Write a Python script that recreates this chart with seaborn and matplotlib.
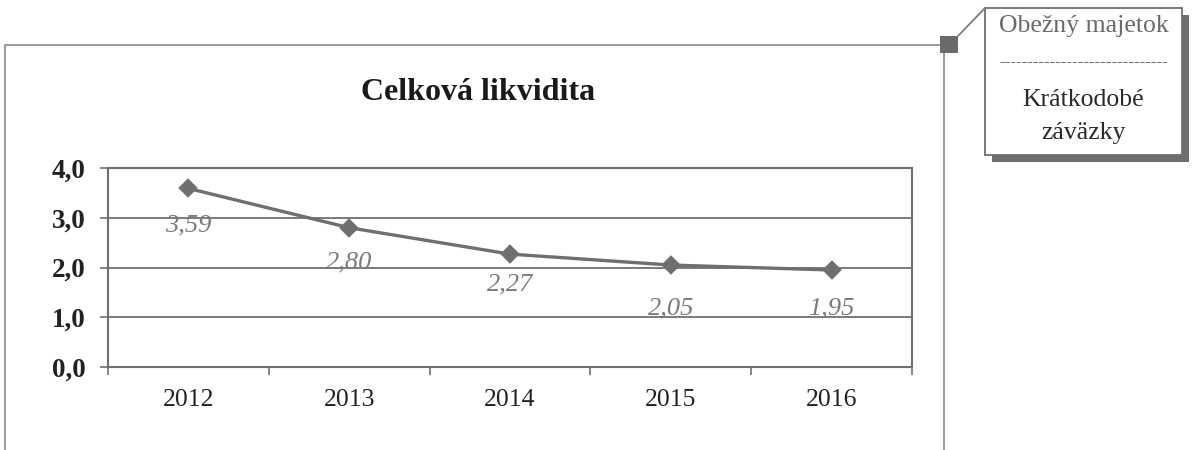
import matplotlib
matplotlib.use("Agg")
import matplotlib.pyplot as plt
import matplotlib.patches as mpatches
import seaborn as sns

# data
years = ["2012", "2013", "2014", "2015", "2016"]
liquidity = [3.59, 2.80, 2.27, 2.05, 1.95]
y_ticks = [0.0, 1.0, 2.0, 3.0, 4.0]

# label offsets below each point (pixels) – as placed in the original
label_dy = [-37, -35, -30, -43, -38]

sns.set_theme(style="white")
plt.rcParams["font.family"] = ["Liberation Serif", "DejaVu Serif"]

GRAY = "#6f6f6f"
fig = plt.figure(figsize=(11.92, 4.5), dpi=100)
ax = fig.add_axes([0.0906, 0.1844, 0.6745, 0.4422])

sns.pointplot(x=years, y=liquidity, ax=ax, color=GRAY, markers="D",
              linestyles="-", markersize=8, linewidth=2.4, errorbar=None)

for i, v in enumerate(liquidity):
    ax.annotate(f"{v:.2f}".replace(".", ","), xy=(i, v),
                xytext=(0, label_dy[i] * 0.72), textcoords="offset points",
                ha="center", va="center", fontsize=19, style="italic",
                color="#7a7a7a")

ax.set_xlim(-0.5, len(years) - 0.5)
ax.set_ylim(0, 4)
ax.set_yticks(y_ticks)
ax.set_yticklabels([f"{t:.1f}".replace(".", ",") for t in y_ticks],
                   fontsize=19.5, fontweight="bold", color="#222222")
ax.set_xticks(range(len(years)))
ax.set_xticklabels(years, fontsize=18.5, color="#222222")
ax.set_xticks([i + 0.5 for i in range(-1, len(years))], minor=True)
ax.tick_params(axis="x", which="major", length=0, pad=16)
ax.tick_params(axis="x", which="minor", length=6, width=1.2, color=GRAY,
               direction="out", bottom=True)
ax.tick_params(axis="y", length=6, width=1.2, color=GRAY, direction="out",
               left=True, pad=10)
ax.grid(axis="y", color=GRAY, linewidth=1.3)
ax.set_axisbelow(True)
for s in ax.spines.values():
    s.set_color(GRAY)
    s.set_linewidth(1.5)
ax.set_xlabel("")
ax.set_ylabel("")

# chart title
fig.text(478 / 1192, 1 - 92 / 450, "Celková likvidita", ha="center",
         va="center", fontsize=23, fontweight="bold", color="#1a1a1a")

# outer chart frame
frame = mpatches.Rectangle((5 / 1192, -0.05), (944 - 5) / 1192, 0.95,
                           transform=fig.transFigure, fill=False,
                           edgecolor="#8a8a8a", linewidth=1.2)
fig.add_artist(frame)

# callout: square marker, connector and box with shadow
fig.add_artist(mpatches.Rectangle((940 / 1192, 1 - 53 / 450), 18 / 1192,
                                  17 / 450, transform=fig.transFigure,
                                  facecolor="#6a6a6a", edgecolor="none"))
fig.add_artist(plt.Line2D([958 / 1192, 985 / 1192],
                          [1 - 36 / 450, 1 - 8 / 450],
                          transform=fig.transFigure, color="#7a7a7a",
                          linewidth=1.3))
bx0, by0, bw, bh = 985, 8, 197, 147
fig.add_artist(mpatches.Rectangle(((bx0 + 7) / 1192, 1 - (by0 + bh + 7) / 450),
                                  bw / 1192, bh / 450,
                                  transform=fig.transFigure,
                                  facecolor="#6e6e6e", edgecolor="none"))
fig.add_artist(mpatches.Rectangle((bx0 / 1192, 1 - (by0 + bh) / 450),
                                  bw / 1192, bh / 450,
                                  transform=fig.transFigure,
                                  facecolor="white", edgecolor="#6e6e6e",
                                  linewidth=1.3))
cx = (bx0 + bw / 2) / 1192
fig.text(cx, 1 - 26 / 450, "Obežný majetok", ha="center", va="center",
         fontsize=18.5, color="#6a6a6a")
fig.text(cx, 1 - 62 / 450, "-" * 30, ha="center", va="center",
         fontsize=12, color="#444444")
fig.text(cx, 1 - 100 / 450, "Krátkodobé", ha="center", va="center",
         fontsize=18.5, color="#2a2a2a")
fig.text(cx, 1 - 133 / 450, "záväzky", ha="center", va="center",
         fontsize=18.5, color="#2a2a2a")

fig.savefig("out.png", dpi=100)
